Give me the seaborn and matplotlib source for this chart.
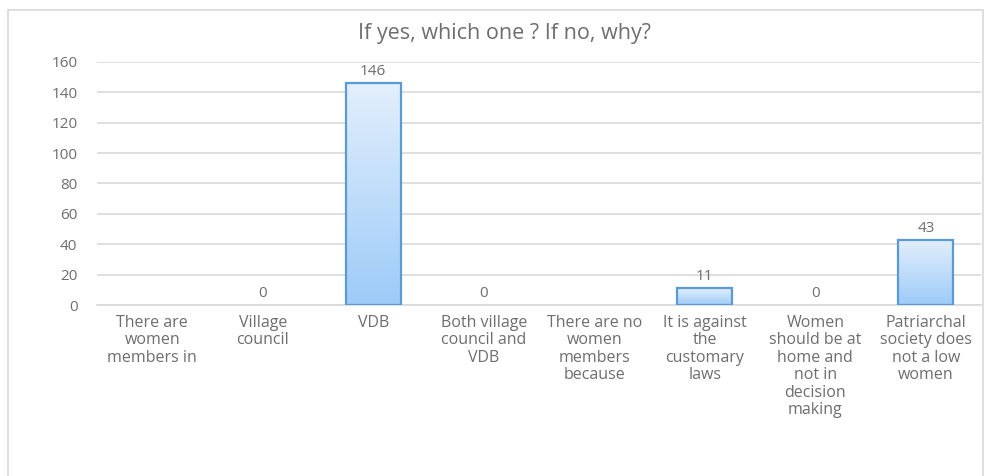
"""
Bar chart: If yes, which one ? If no, why?
Output: out.png
"""
import numpy as np
import pandas as pd
import matplotlib.pyplot as plt
import seaborn as sns
from matplotlib.colors import LinearSegmentedColormap
from matplotlib.patches import Rectangle

# ---- data ----
categories = [
    "There are\nwomen\nmembers in",
    "Village\ncouncil",
    "VDB",
    "Both village\ncouncil and\nVDB",
    "There are no\nwomen\nmembers\nbecause",
    "It is against\nthe\ncustomary\nlaws",
    "Women\nshould be at\nhome and\nnot in\ndecision\nmaking",
    "Patriarchal\nsociety does\nnot a low\nwomen",
]
counts = [None, 0, 146, 0, None, 11, 0, 43]
y_ticks = [0, 20, 40, 60, 80, 100, 120, 140, 160]

df = pd.DataFrame({"cat": categories, "n": counts})
df["h"] = df["n"].fillna(0)

sns.set_theme(style="white")
plt.rcParams["font.family"] = ["Open Sans", "DejaVu Sans"]

grey = "#6e6e6e"
fig = plt.figure(figsize=(9.89, 4.76), dpi=100)
ax = fig.add_axes([0.098, 0.359, 0.894, 0.511])

sns.barplot(data=df, x="cat", y="h", width=0.5, color="#BDD7EE",
            edgecolor="#5B9BD5", linewidth=1.6, ax=ax, zorder=3)

# gradient fill inside bars
cmap = LinearSegmentedColormap.from_list("g", ["#9DCBF8", "#E3EFFC"])
grad = np.linspace(0, 1, 256).reshape(-1, 1)
for p in ax.patches:
    h = p.get_height()
    if not np.isfinite(h) or h <= 0:
        p.set_visible(False)
        continue
    x0, w = p.get_x(), p.get_width()
    im = ax.imshow(grad, cmap=cmap, origin="lower", aspect="auto",
                   extent=(x0, x0 + w, 0, h), zorder=3)
    im.set_clip_path(p)
    p.set_facecolor("none")
    p.set_zorder(4)

# data labels
for i, v in enumerate(counts):
    if v is None:
        continue
    ax.annotate(f"{v}", xy=(i, v), xytext=(0, 3), textcoords="offset points",
                ha="center", va="bottom", fontsize=11, color=grey)

ax.set_xlim(-0.5, len(categories) - 0.5)
ax.set_ylim(0, 160)
ax.set_yticks(y_ticks)
ax.yaxis.grid(True, color="#D9D9D9", linewidth=1.2, zorder=0)
ax.set_axisbelow(True)
for s in ["top", "right", "left"]:
    ax.spines[s].set_visible(False)
ax.spines["bottom"].set_color("#D9D9D9")
ax.spines["bottom"].set_linewidth(1.2)
ax.tick_params(axis="y", length=0, pad=14, labelsize=11, labelcolor=grey)
ax.tick_params(axis="x", length=0, pad=7, labelsize=11.5, labelcolor=grey)
for t in ax.get_xticklabels():
    t.set_linespacing(1.12)
ax.set_xlabel("")
ax.set_ylabel("")

fig.text(0.51, 0.93, "If yes, which one ? If no, why?", fontsize=15.5,
         color=grey, ha="center", va="center")

# outer chart frame
fig.patches.append(Rectangle((0.008, -0.05), 0.986, 1.03, transform=fig.transFigure,
                             fill=False, edgecolor="#D9D9D9", linewidth=1.2))

fig.savefig("out.png", dpi=100)
